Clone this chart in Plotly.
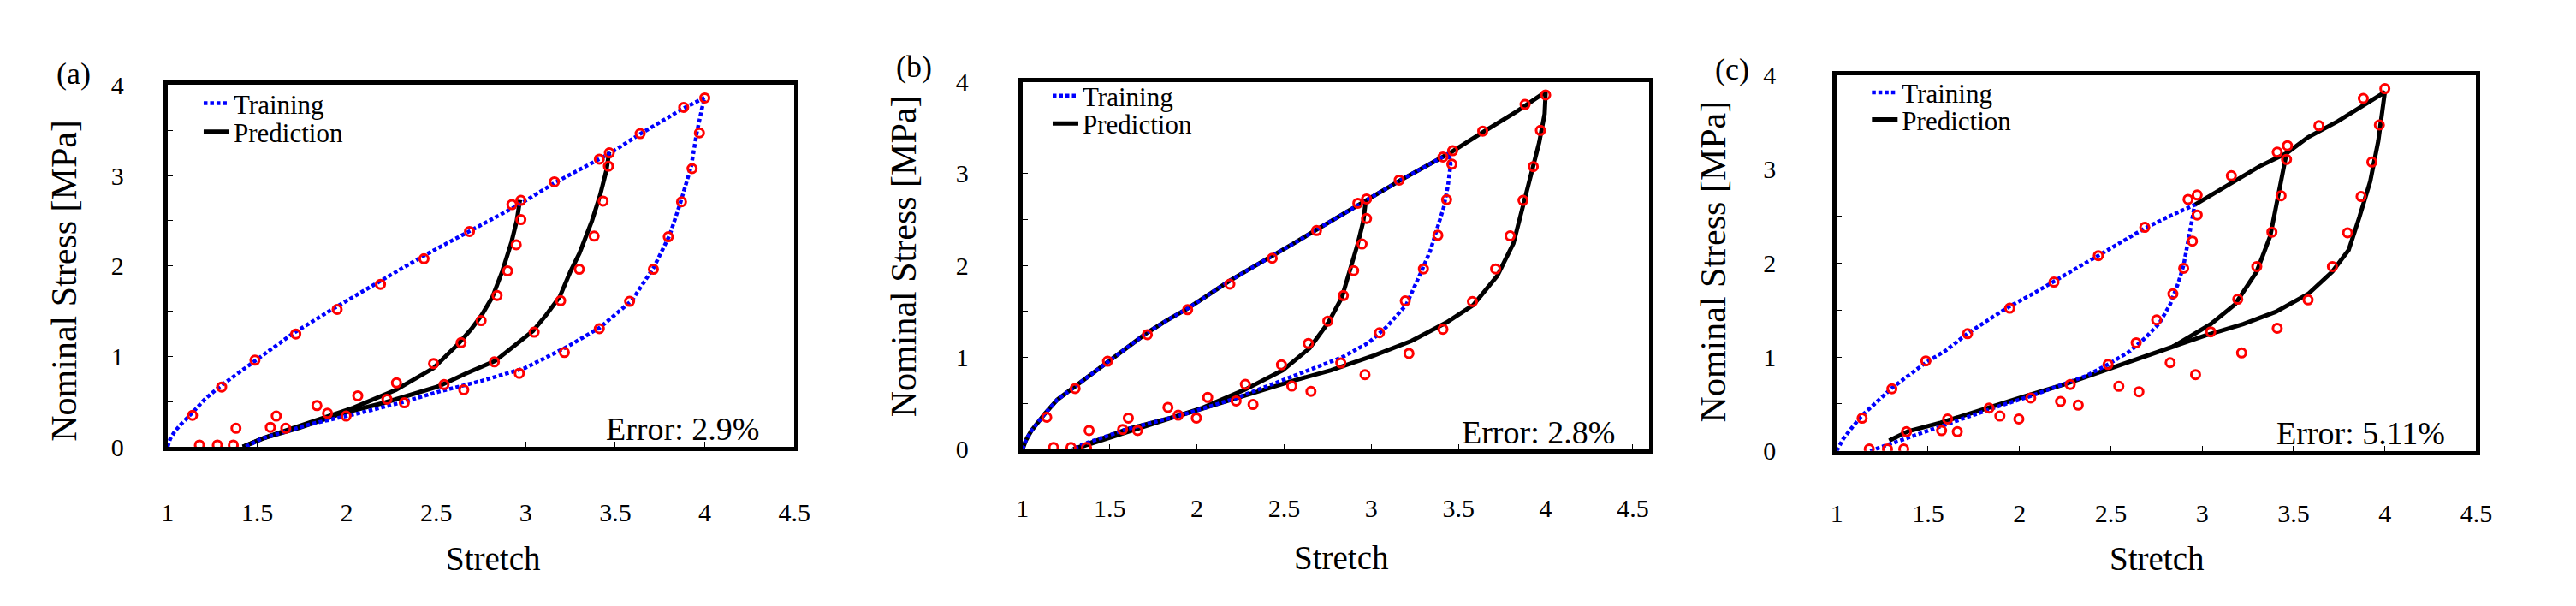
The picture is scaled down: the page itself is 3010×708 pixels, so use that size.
import plotly.graph_objects as go

W, H = 3010, 708
FONT = "Liberation Serif"

# ---------------- experimental data (same in all panels) ----------------
exp_stretch = [1.139, 1.302, 1.488, 1.716, 1.947, 2.189, 2.432, 2.686, 2.923, 2.973,
               3.160, 3.411, 3.467, 3.639, 3.882, 4.000,
               2.973, 2.947, 2.899, 2.840, 2.751, 2.639, 2.485, 2.278, 2.062, 1.834, 1.607, 1.382, 1.178,
               3.462, 3.432, 3.382, 3.299, 3.195, 3.047, 2.825, 2.544, 2.225, 1.893, 1.574, 1.278,
               3.970, 3.929, 3.870, 3.796, 3.713, 3.580, 3.411, 3.216, 2.964, 2.654, 2.322, 1.997, 1.660, 1.367]
exp_stress = [0.348, 0.661, 0.958, 1.248, 1.519, 1.797, 2.079, 2.381, 2.678, 2.725,
              2.930, 3.181, 3.250, 3.463, 3.753, 3.857,
              2.512, 2.234, 1.944, 1.673, 1.395, 1.152, 0.920, 0.707, 0.564, 0.456, 0.340, 0.205, 0.020,
              3.103, 2.717, 2.330, 1.963, 1.615, 1.268, 0.939, 0.688, 0.526, 0.371, 0.216, 0.020,
              3.471, 3.076, 2.709, 2.323, 1.963, 1.608, 1.306, 1.043, 0.812, 0.630, 0.487, 0.340, 0.205, 0.020]

# ---------------- panel (a) ----------------
a_train_x = [1.0, 1.015, 1.04, 1.075, 1.135, 1.21, 1.294, 1.375, 1.486, 1.6, 1.705, 1.825, 1.945, 2.065,
             2.185, 2.305, 2.428, 2.555, 2.68, 2.82, 2.965, 3.163, 3.466, 3.64, 3.879, 4.0,
             3.984, 3.954, 3.924, 3.864, 3.804, 3.714, 3.594, 3.415, 3.235, 2.995, 2.755, 2.515, 2.305,
             2.065, 1.795, 1.525, 1.435]
a_train_y = [0.0, 0.09, 0.17, 0.25, 0.37, 0.53, 0.67, 0.79, 0.95, 1.11, 1.26, 1.41, 1.55, 1.69,
             1.83, 1.97, 2.11, 2.245, 2.38, 2.53, 2.68, 2.92, 3.24, 3.46, 3.74, 3.86,
             3.74, 3.46, 3.10, 2.70, 2.34, 1.98, 1.62, 1.32, 1.11, 0.87, 0.73, 0.61, 0.49,
             0.37, 0.25, 0.09, 0.0]
a_pred_x = [2.968, 2.95, 2.92, 2.869, 2.815, 2.755, 2.695, 2.62, 2.485, 2.275, 2.035, 1.795, 1.555, 1.42, None,
            3.466, 3.451, 3.415, 3.37, 3.30, 3.25, 3.19, 3.115, 3.04, 2.935, 2.83, 2.665, 2.515, 2.215,
            1.975, 1.735, 1.525, 1.42]
a_pred_y = [2.73, 2.50, 2.26, 1.94, 1.66, 1.46, 1.30, 1.13, 0.87, 0.63, 0.43, 0.27, 0.11, 0.0, None,
            3.26, 3.06, 2.78, 2.50, 2.14, 1.94, 1.66, 1.46, 1.28, 1.11, 0.95, 0.81, 0.67, 0.49,
            0.37, 0.21, 0.09, 0.0]

# ---------------- panel (b) ----------------
b_train_x = [1.0, 1.02, 1.05, 1.09, 1.129, 1.2, 1.292, 1.38, 1.477, 1.59, 1.708, 1.825, 1.945, 2.065,
             2.185, 2.31, 2.431, 2.555, 2.677, 2.815, 2.954, 3.169, 3.446,
             3.455, 3.44, 3.415, 3.378, 3.338, 3.286, 3.2, 3.092, 2.985, 2.831, 2.646, 2.462, 2.215,
             1.908, 1.6, 1.354, 1.28]
b_train_y = [0.0, 0.1, 0.2, 0.3, 0.39, 0.54, 0.67, 0.80, 0.94, 1.10, 1.26, 1.40, 1.53, 1.68,
             1.83, 1.97, 2.10, 2.24, 2.38, 2.53, 2.69, 2.93, 3.22,
             3.10, 2.87, 2.63, 2.40, 2.16, 1.93, 1.57, 1.34, 1.16, 1.00, 0.86, 0.73, 0.55,
             0.37, 0.22, 0.06, 0.0]
b_pred_x = [1.0, 1.02, 1.05, 1.09, 1.129, 1.2, 1.292, 1.38, 1.477, 1.59, 1.708, 1.825, 1.945, 2.065,
            2.185, 2.31, 2.431, 2.555, 2.677, 2.815, 2.954, 3.169, 3.446, 3.646, 3.831, 4.0,
            3.994, 3.963, 3.923, 3.871, 3.815, 3.723, 3.585, 3.431, 3.231, 3.015, 2.769, 2.523, 2.215,
            1.908, 1.6, 1.292, None,
            2.969, 2.954, 2.923, 2.877, 2.831, 2.754, 2.646, 2.492, 2.277, 2.031, 1.785, 1.538, 1.292]
b_pred_y = [0.0, 0.1, 0.2, 0.3, 0.39, 0.54, 0.67, 0.80, 0.94, 1.10, 1.26, 1.40, 1.53, 1.68,
            1.83, 1.97, 2.10, 2.24, 2.38, 2.53, 2.69, 2.93, 3.22, 3.458, 3.674, 3.89,
            3.65, 3.34, 3.03, 2.63, 2.24, 1.89, 1.57, 1.38, 1.18, 1.02, 0.86, 0.73, 0.55,
            0.37, 0.22, 0.0, None,
            2.71, 2.48, 2.24, 1.93, 1.65, 1.38, 1.10, 0.86, 0.65, 0.45, 0.30, 0.16, 0.0]

# ---------------- panel (c) ----------------
c_train_x = [1.0, 1.036, 1.08, 1.139, 1.213, 1.302, 1.391, 1.488, 1.598, 1.716, 1.834, 1.947, 2.071,
             2.189, 2.308, 2.432, 2.559, 2.686, 2.811, 2.959,
             2.944, 2.923, 2.899, 2.87, 2.825, 2.766, 2.692, 2.604, 2.485, 2.367, 2.219, 2.071, 1.893,
             1.716, 1.538, 1.361, 1.213, 1.183]
c_train_y = [0.0, 0.13, 0.24, 0.38, 0.51, 0.67, 0.80, 0.94, 1.07, 1.25, 1.40, 1.54, 1.67,
             1.81, 1.94, 2.08, 2.23, 2.37, 2.49, 2.62,
             2.45, 2.21, 1.98, 1.79, 1.56, 1.36, 1.21, 1.06, 0.92, 0.80, 0.69, 0.59, 0.48,
             0.36, 0.24, 0.13, 0.03, 0.0]
c_pred_x = [2.959, 3.136, 3.314, 3.462, 3.58, 3.743, 4.0,
            3.964, 3.92, 3.861, 3.802, 3.713, 3.58, 3.402, 3.225, 3.018, 2.84, 2.722, 2.515, 2.249,
            2.012, 1.775, 1.568, 1.391, 1.287, None,
            3.462, 3.447, 3.417, 3.373, 3.299, 3.18, 3.047, 2.84]
c_pred_y = [2.62, 2.83, 3.03, 3.17, 3.34, 3.51, 3.82,
            3.30, 2.87, 2.49, 2.14, 1.91, 1.67, 1.48, 1.35, 1.23, 1.11, 1.02, 0.88, 0.71,
            0.57, 0.43, 0.30, 0.21, 0.11, None,
            3.17, 3.03, 2.72, 2.29, 1.91, 1.56, 1.35, 1.11]

panel_letters = ["(a)", "(b)", "(c)"]
error_texts = ["Error: 2.9%", "Error: 2.8%", "Error: 5.11%"]
x_title = "Stretch"
y_title = "Nominal Stress [MPa]"
x_ranges = [[1, 4.5], [1, 4.594], [1, 4.5]]

# ---------------- layout geometry (pixels) ----------------
boxes = [  # left, right, top, bottom (border centre lines)
    (187, 931, 84, 533),
    (1195, 1939, 80, 536),
    (2155, 2914, 72, 538),
]
ylab_standoff = [40, 52, 60]
xlab_standoff = [46, 38, 42]
letter_pos = [(79, 72), (1070, 64), (2034, 67)]
ytitle_pos = [(68, 326), (1057, 297), (2012, 303)]
xtitle_pos = [(573, 668), (1573, 667), (2535, 668)]
err_pos = [(889, 508), (1898, 513), (2877, 514)]
legend_x = [227, 1228, 2194]
legend_rows = [(109, 144), (100, 134), (96, 129)]


def px(x):
    return x / W


def py(y):
    return 1 - y / H


def tfont(size):
    return dict(size=size, family=FONT, color="black")


trains = [(a_train_x, a_train_y), (b_train_x, b_train_y), (c_train_x, c_train_y)]
preds = [(a_pred_x, a_pred_y), (b_pred_x, b_pred_y), (c_pred_x, c_pred_y)]

fig = go.Figure()
layout = dict(
    width=W, height=H, margin=dict(l=0, r=0, t=0, b=0),
    paper_bgcolor="white", plot_bgcolor="white",
    font=tfont(30),
    annotations=[],
)

BLUE = "#0000ff"
RED = "#ff0000"
half = 2.5
for i in range(3):
    sfx = "" if i == 0 else str(i + 1)
    xa, ya = "x" + sfx, "y" + sfx
    leg_t = "legend" + sfx
    leg_p = "legend" + str(i + 4)
    l, r, t, b = boxes[i]
    layout["xaxis" + sfx] = dict(
        domain=[px(l + half), px(r - half)], range=x_ranges[i], anchor=ya,
        tick0=1, dtick=0.5, ticks="inside", ticklen=6, tickwidth=1, tickcolor="black",
        showline=True, linewidth=5, linecolor="black", mirror=True,
        showgrid=False, zeroline=False,
        tickfont=tfont(30),
        ticklabelstandoff=xlab_standoff[i],
    )
    layout["yaxis" + sfx] = dict(
        domain=[py(b - half), py(t + half)], range=[0, 4], anchor=xa,
        tick0=0, dtick=1, ticks="inside", ticklen=6, tickwidth=1, tickcolor="black",
        minor=dict(dtick=0.5, ticks="inside", ticklen=6, tickwidth=1, tickcolor="black", showgrid=False),
        showline=True, linewidth=5, linecolor="black", mirror=True,
        showgrid=False, zeroline=False,
        tickfont=tfont(30),
        ticklabelstandoff=ylab_standoff[i],
    )
    for leg, yrow in ((leg_t, legend_rows[i][0]), (leg_p, legend_rows[i][1])):
        layout[leg] = dict(
            x=px(legend_x[i]), y=py(yrow), xanchor="left", yanchor="middle",
            bgcolor="rgba(0,0,0,0)", borderwidth=0,
            font=tfont(31),
            itemwidth=30,
        )

    # prediction (black) drawn first, training (blue dotted) over it, data on top
    fig.add_trace(go.Scatter(
        x=preds[i][0], y=preds[i][1], xaxis=xa, yaxis=ya, mode="lines",
        line=dict(color="black", width=5), name="Prediction", legend=leg_p,
        showlegend=True, connectgaps=False, hoverinfo="skip"))
    fig.add_trace(go.Scatter(
        x=trains[i][0], y=trains[i][1], xaxis=xa, yaxis=ya, mode="lines",
        line=dict(color=BLUE, width=4.5, dash="4.5px,3px"), name="Training", legend=leg_t,
        showlegend=True, hoverinfo="skip"))
    fig.add_trace(go.Scatter(
        x=exp_stretch, y=exp_stress, xaxis=xa, yaxis=ya, mode="markers",
        marker=dict(symbol="circle-open", size=10, color=RED, line=dict(color=RED, width=3)),
        showlegend=False, hoverinfo="skip"))

    # texts
    layout["annotations"] += [
        dict(text=panel_letters[i], x=px(letter_pos[i][0]), y=py(letter_pos[i][1]),
             xref="paper", yref="paper", showarrow=False, xanchor="center", yanchor="middle",
             font=tfont(36)),
        dict(text=y_title, x=px(ytitle_pos[i][0]), y=py(ytitle_pos[i][1]), textangle=-90,
             xref="paper", yref="paper", showarrow=False, xanchor="center", yanchor="middle",
             font=tfont(42)),
        dict(text=x_title, x=px(xtitle_pos[i][0]), y=py(xtitle_pos[i][1]),
             xref="paper", yref="paper", showarrow=False, xanchor="center", yanchor="middle",
             font=tfont(39)),
        dict(text=error_texts[i], x=px(err_pos[i][0]), y=py(err_pos[i][1]),
             xref="paper", yref="paper", showarrow=False, xanchor="right", yanchor="middle",
             font=tfont(38)),
    ]

fig.update_layout(**layout)
fig.write_html("out.html")
